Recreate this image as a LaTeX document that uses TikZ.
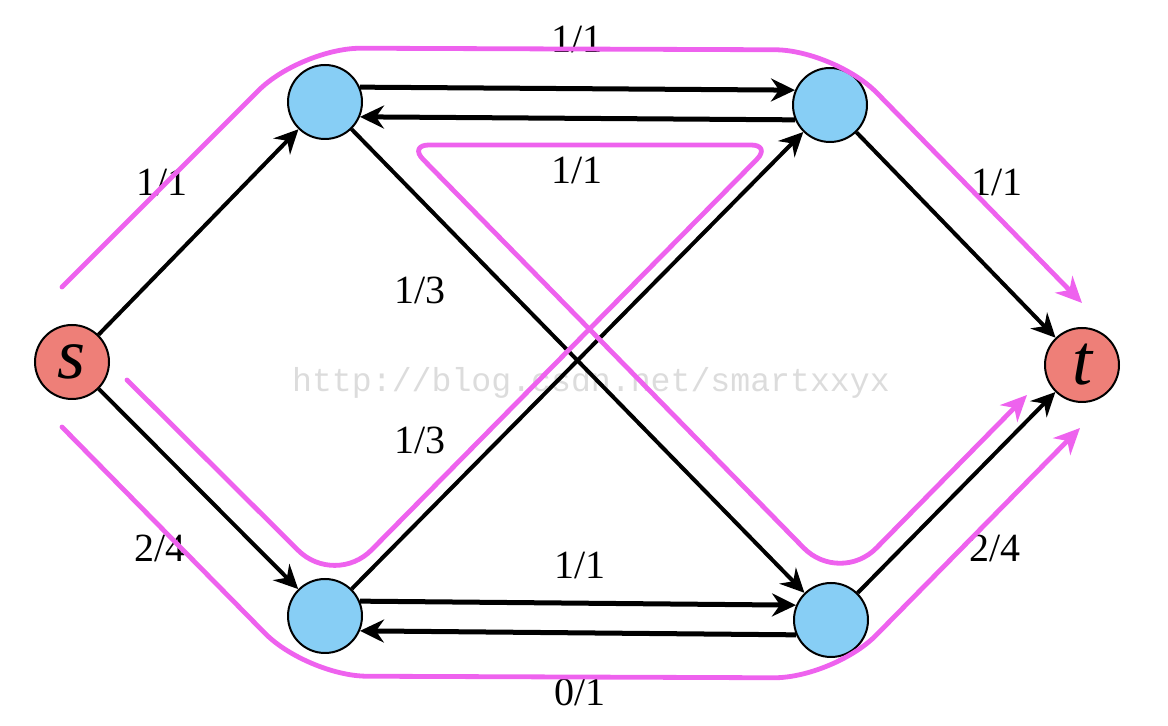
\documentclass[tikz,border=0pt]{standalone}
\usepackage{fontspec}
\setmainfont{Liberation Serif}
\setmonofont{Liberation Mono}
\usepackage{tikz}
\usetikzlibrary{arrows.meta}
\definecolor{sky}{HTML}{87CEF5}
\definecolor{salmon}{HTML}{EE7F78}
\definecolor{pink}{HTML}{EE62EE}
\definecolor{faint}{HTML}{DCDCDC}
\tikzset{
  vert/.style={circle, draw=black, line width=1pt, fill=sky, minimum size=37pt, inner sep=0pt},
  term/.style={vert, fill=salmon, font=\fontsize{36}{36}\selectfont\itshape},
  link/.style={draw=black, line width=2pt, -{Stealth[length=12pt,width=11.5pt,inset=4pt]}},
  pair/.style={link, line width=2.5pt},
  aug/.style={draw=pink, line width=2.4pt, line cap=round, line join=round, -{Stealth[length=13pt,width=12pt,inset=4pt]}},
  lab/.style={text=black, font=\fontsize{20}{24}\selectfont},
  wm/.style={text=faint, font=\ttfamily\fontsize{16.6}{20}\selectfont},
}

\begin{document}
\begin{tikzpicture}[x=0.5pt, y=-0.5pt]
  \useasboundingbox (0,0) rectangle (1168,726);
  \node[wm] (w) at (591,383) {http://blog.csdn.net/smartxxyx};
  \node[term] (s) at (72,362) {s};
  \node[term] (t) at (1082,365) {t};
  \node[vert] (a) at (325,102) {};
  \node[vert] (b) at (830,105) {};
  \node[vert] (c) at (325,616) {};
  \node[vert] (d) at (831,620) {};
  \draw[link] (s) -- (a);
  \draw[link] (s) -- (c);
  \draw[pair] (a.23) -- (b.157);
  \draw[pair] (b.203) -- (a.-23);
  \draw[link] (a) -- (d);
  \draw[link] (c) -- (b);
  \draw[pair] (c.23) -- (d.157);
  \draw[pair] (d.203) -- (c.-23);
  \draw[link] (b) -- (t);
  \draw[link] (d) -- (t);
  \node[lab] (l1) at (577,40) {1/1};
  \node[lab] (l2) at (577,170) {1/1};
  \node[lab] (l3) at (162,182) {1/1};
  \node[lab] (l4) at (997,182) {1/1};
  \node[lab] (l5) at (420,290) {1/3};
  \node[lab] (l6) at (420,440) {1/3};
  \node[lab] (l7) at (160,548) {2/4};
  \node[lab] (l8) at (995,548) {2/4};
  \node[lab] (l9) at (580,565) {1/1};
  \node[lab] (l10) at (580,692) {0/1};
  \coordinate (u0) at (62,287);
  \coordinate (u1) at (301,48);
  \coordinate (u2) at (835,50);
  \coordinate (u3) at (1082,303);
  \coordinate (m0) at (127,380);
  \coordinate (m1) at (335,587);
  \coordinate (m2) at (771,145);
  \coordinate (m3) at (409,145);
  \coordinate (m4) at (840,585);
  \coordinate (m5) at (1027,395);
  \coordinate (v0) at (62,427);
  \coordinate (v1) at (307,676);
  \coordinate (v2) at (834,678);
  \coordinate (v3) at (1080,428);
  \draw[aug, rounded corners=30pt] (u0) -- (u1) -- (u2) -- (u3);
  \draw[aug] (m0) [rounded corners=26pt] -- (m1) [rounded corners=10pt] -- (m2) -- (m3) [rounded corners=26pt] -- (m4) -- (m5);
  \draw[aug, rounded corners=30pt] (v0) -- (v1) -- (v2) -- (v3);
\end{tikzpicture}
\end{document}
